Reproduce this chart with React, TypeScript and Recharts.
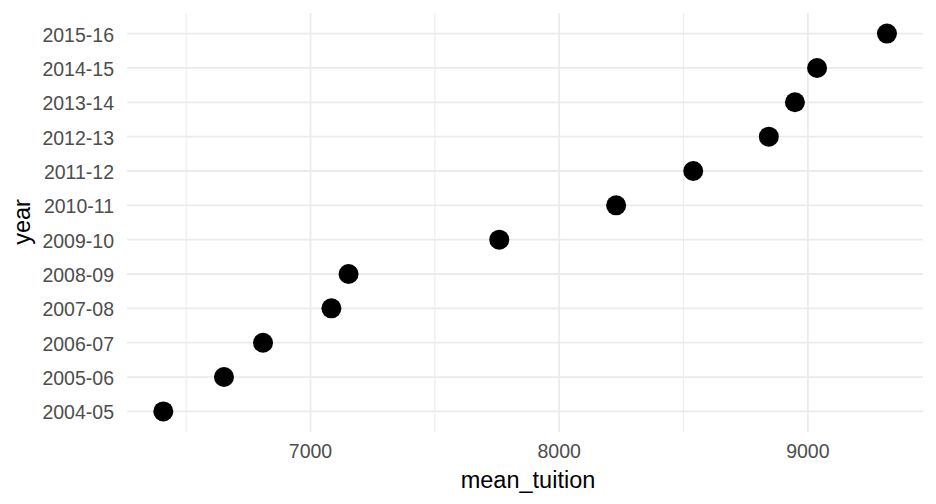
import { Label, ReferenceLine, Scatter, ScatterChart, XAxis, YAxis } from "recharts";

const years = [
  "2004-05", "2005-06", "2006-07", "2007-08", "2008-09", "2009-10",
  "2010-11", "2011-12", "2012-13", "2013-14", "2014-15", "2015-16",
];
const meanTuition = [6408, 6652, 6809, 7084, 7153, 7759, 8229, 8539, 8843, 8948, 9037, 9318];
const xTicks = [7000, 8000, 9000];
const xMinorTicks = [6500, 7500, 8500];

const FONT = "'Liberation Sans', Arial, Helvetica, sans-serif";
const GRID = "#ebebeb";

const data = years.map((year, i) => ({ year, pos: i + 1, mean_tuition: meanTuition[i] }));
const yTicks = years.map((_, i) => i + 1);

export default function App() {
  return (
    <div style={{ position: "absolute", left: 0, top: 0, width: 936, height: 504, background: "#fff", fontFamily: FONT }}>
      <ScatterChart width={936} height={504} margin={{ top: 13, right: 13, bottom: 0, left: 0 }}>
        {xMinorTicks.map((v) => (
          <ReferenceLine key={"m" + v} x={v} stroke={GRID} strokeWidth={1} />
        ))}
        {xTicks.map((v) => (
          <ReferenceLine key={"x" + v} x={v} stroke={GRID} strokeWidth={1.8} />
        ))}
        {yTicks.map((v) => (
          <ReferenceLine key={"y" + v} y={v} stroke={GRID} strokeWidth={1.8} />
        ))}
        <XAxis
          type="number"
          dataKey="mean_tuition"
          domain={[6262, 9463]}
          ticks={xTicks}
          allowDataOverflow
          height={72}
          axisLine={false}
          tickLine={false}
          tickSize={0}
          tickMargin={12.5}
          tick={{ fill: "#4d4d4d", fontSize: 19.5, fontFamily: FONT }}
        >
          <Label
            content={() => (
              <text x={528} y={487.5} textAnchor="middle" fontSize={23.5} fill="#000" fontFamily={FONT}>
                mean_tuition
              </text>
            )}
          />
        </XAxis>
        <YAxis
          type="number"
          dataKey="pos"
          domain={[0.4, 12.6]}
          ticks={yTicks}
          allowDataOverflow
          width={127}
          axisLine={false}
          tickLine={false}
          tickSize={0}
          tickMargin={13}
          interval={0}
          tickFormatter={(v: number) => years[v - 1]}
          tick={{ fill: "#4d4d4d", fontSize: 19.5, fontFamily: FONT, dy: 1 }}
        >
          <Label
            content={() => (
              <text
                x={29.5}
                y={222}
                transform="rotate(-90 29.5 222)"
                textAnchor="middle"
                fontSize={23.5}
                fill="#000"
                fontFamily={FONT}
              >
                year
              </text>
            )}
          />
        </YAxis>
        <Scatter
          data={data}
          isAnimationActive={false}
          shape={(p: any) => <circle cx={p.cx} cy={p.cy} r={10} fill="#000" />}
        />
      </ScatterChart>
    </div>
  );
}
